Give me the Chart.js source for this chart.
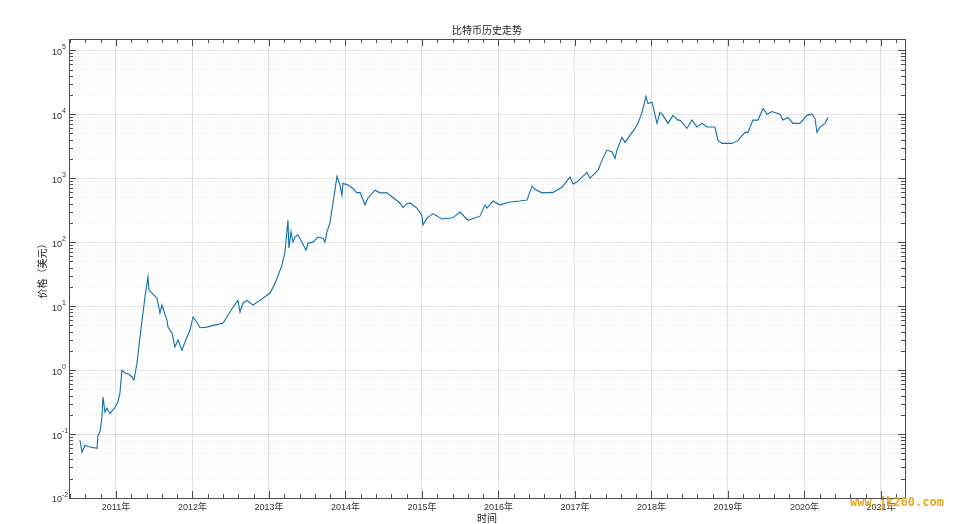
<!DOCTYPE html>
<html lang="zh">
<head>
<meta charset="UTF-8">
<title>比特币历史走势</title>
<script src="https://cdn.jsdelivr.net/npm/chart.js"></script>
<style>
  html, body { margin: 0; padding: 0; background: #fff; }
  #chart { display: block; }
</style>
</head>
<body>
<canvas id="chart" width="960" height="524"></canvas>
<script>
// 时间（小数年）与价格（美元）
const years = [
  2010.529, 2010.556, 2010.595, 2010.634, 2010.752, 2010.765, 2010.791, 2010.817, 2010.830, 2010.856,
  2010.882, 2010.922, 2010.987, 2011.026, 2011.052, 2011.078, 2011.118, 2011.170, 2011.209, 2011.235,
  2011.275, 2011.314, 2011.353, 2011.379, 2011.418, 2011.431, 2011.471, 2011.536, 2011.575, 2011.601,
  2011.667, 2011.680, 2011.732, 2011.771, 2011.810, 2011.863, 2011.902, 2011.967, 2012.007, 2012.059,
  2012.098, 2012.190, 2012.268, 2012.399, 2012.464, 2012.529, 2012.595, 2012.621, 2012.660, 2012.712,
  2012.791, 2012.882, 2012.948, 2013.013, 2013.065, 2013.105, 2013.170, 2013.209, 2013.248, 2013.261,
  2013.288, 2013.314, 2013.340, 2013.379, 2013.431, 2013.484, 2013.510, 2013.575, 2013.641, 2013.706,
  2013.732, 2013.758, 2013.797, 2013.837, 2013.889, 2013.928, 2013.954, 2013.967, 2014.033, 2014.098,
  2014.150, 2014.190, 2014.229, 2014.255, 2014.294, 2014.386, 2014.451, 2014.542, 2014.621, 2014.712,
  2014.752, 2014.804, 2014.843, 2014.935, 2015.000, 2015.013, 2015.065, 2015.144, 2015.261, 2015.405,
  2015.497, 2015.601, 2015.758, 2015.824, 2015.850, 2015.928, 2016.020, 2016.124, 2016.281, 2016.373,
  2016.438, 2016.477, 2016.569, 2016.712, 2016.830, 2016.935, 2016.974, 2017.026, 2017.157, 2017.196,
  2017.301, 2017.353, 2017.418, 2017.484, 2017.523, 2017.549, 2017.614, 2017.654, 2017.719, 2017.784,
  2017.824, 2017.876, 2017.928, 2017.954, 2018.007, 2018.072, 2018.111, 2018.150, 2018.216, 2018.281,
  2018.346, 2018.373, 2018.464, 2018.529, 2018.595, 2018.660, 2018.725, 2018.830, 2018.869, 2018.922,
  2019.052, 2019.131, 2019.222, 2019.261, 2019.327, 2019.392, 2019.458, 2019.510, 2019.575, 2019.680,
  2019.719, 2019.784, 2019.850, 2019.941, 2020.033, 2020.098, 2020.137, 2020.163, 2020.203, 2020.268,
  2020.307
];
const prices = [
  0.080, 0.052, 0.067, 0.064, 0.060, 0.096, 0.108, 0.185, 0.38, 0.22,
  0.254, 0.21, 0.26, 0.32, 0.44, 1.0, 0.90, 0.86, 0.78, 0.70,
  1.29, 3.3, 7.8, 13.8, 28.5, 17.8, 15.9, 13.3, 7.8, 10.4,
  6.0, 4.7, 3.8, 2.3, 2.95, 2.05, 2.74, 4.2, 6.7, 5.6,
  4.6, 4.7, 5.0, 5.4, 7.2, 9.6, 12.3, 8.1, 11.1, 12.3,
  10.4, 12.3, 14, 16, 21, 27, 44, 69, 220, 81,
  145, 100, 120, 130, 100, 75, 96, 100, 120, 115,
  100, 145, 200, 410, 1070, 780, 540, 830, 780, 690,
  590, 600, 460, 380, 490, 650, 590, 590, 500, 410,
  350, 400, 410, 340, 260, 185, 237, 280, 230, 240,
  295, 220, 255, 380, 340, 440, 380, 420, 440, 455,
  750, 670, 590, 600, 720, 1040, 810, 870, 1230, 1000,
  1330, 1900, 2750, 2570, 2050, 2750, 4370, 3630, 4670, 6000,
  7200, 10700, 19000, 14700, 15400, 7200, 10700, 9600, 7200, 9600,
  8100, 8100, 6000, 8100, 6300, 7200, 6300, 6300, 3900, 3500,
  3500, 3900, 5200, 5200, 8100, 8100, 12300, 10000, 11000, 10000,
  8100, 8900, 7200, 7200, 9600, 10000, 8600, 5200, 6300, 7200,
  8900
];
const yearTicks = [2011, 2012, 2013, 2014, 2015, 2016, 2017, 2018, 2019, 2020, 2021];
const decades = [-2, -1, 0, 1, 2, 3, 4, 5];

const XMIN = 2010.386;
const XMAX = 2021.314;
const YMIN = 0.01;
const YMAX = 150000;
const axisColor = '#4d4d4d';

// 对数刻度：每个数量级 1..9
function logTicks() {
    let t = [];
    for (let e of decades) {
        for (let m = 1; m <= 9; m++) {
            let v = m * Math.pow(10, e);
            if (v >= YMIN && v <= YMAX) t.push({ value: v, major: m === 1 });
        }
    }
    return t;
}

const matlabAxes = {
    id: 'matlabAxes',
    afterDraw(chart) {
        const ctx = chart.ctx;
        const a = chart.chartArea;
        const xs = chart.scales.x;
        const ys = chart.scales.y;
        ctx.save();

        // 边框
        ctx.strokeStyle = axisColor;
        ctx.lineWidth = 1;
        ctx.strokeRect(Math.round(a.left) + 0.5, Math.round(a.top) + 0.5,
            Math.round(a.right - a.left), Math.round(a.bottom - a.top));

        // x 刻度线（上下，向内）
        ctx.beginPath();
        for (let k = Math.ceil(XMIN * 5); k <= Math.floor(XMAX * 5); k++) {
            let len = (k % 5 === 0) ? 7 : 4;
            let px = Math.round(xs.getPixelForValue(k / 5)) + 0.5;
            ctx.moveTo(px, a.bottom);
            ctx.lineTo(px, a.bottom - len);
            ctx.moveTo(px, a.top);
            ctx.lineTo(px, a.top + len);
        }
        // y 刻度线（左右，向内）
        for (let t of logTicks()) {
            let len = t.major ? 7 : 4;
            let py = Math.round(ys.getPixelForValue(t.value)) + 0.5;
            ctx.moveTo(a.left, py);
            ctx.lineTo(a.left + len, py);
            ctx.moveTo(a.right, py);
            ctx.lineTo(a.right - len, py);
        }
        ctx.stroke();

        // y 刻度标签 10^n
        ctx.fillStyle = '#333';
        ctx.textBaseline = 'middle';
        for (let e of decades) {
            let py = ys.getPixelForValue(Math.pow(10, e));
            ctx.font = '7px "Liberation Sans", Arial, sans-serif';
            ctx.textAlign = 'left';
            ctx.fillText(String(e), 62, py - 3);
            ctx.font = '9px "Liberation Sans", Arial, sans-serif';
            ctx.textAlign = 'right';
            ctx.fillText('10', 62, py + 2);
        }

        // 标题与坐标轴名称
        const cjk = '"Noto Sans CJK SC", sans-serif';
        ctx.fillStyle = '#222';
        ctx.textAlign = 'center';
        ctx.font = '10px ' + cjk;
        ctx.fillText('比特币历史走势', (a.left + a.right) / 2, 30);
        ctx.fillText('时间', (a.left + a.right) / 2, 518);
        ctx.save();
        ctx.translate(42, (a.top + a.bottom) / 2);
        ctx.rotate(-Math.PI / 2);
        ctx.fillText('价格（美元）', 0, 0);
        ctx.restore();

        // 水印
        ctx.fillStyle = '#eba51c';
        ctx.font = 'bold 12px "DejaVu Sans Mono", monospace';
        ctx.textAlign = 'left';
        ctx.fillText('www.jk260.com', 850, 503);

        ctx.restore();
    }
};

new Chart(document.getElementById('chart'), {
    type: 'line',
    data: {
        datasets: [{
            data: years.map((x, i) => ({ x: x, y: prices[i] })),
            borderColor: 'rgb(14, 110, 170)',
            borderWidth: 1.1,
            pointRadius: 0,
            tension: 0,
            fill: false
        }]
    },
    options: {
        responsive: false,
        animation: false,
        devicePixelRatio: 1,
        layout: { padding: { left: 0, right: 55, top: 39, bottom: 0 } },
        plugins: {
            legend: { display: false },
            tooltip: { enabled: false }
        },
        scales: {
            x: {
                type: 'linear',
                min: XMIN,
                max: XMAX,
                afterBuildTicks: (scale) => { scale.ticks = yearTicks.map(v => ({ value: v })); },
                afterFit: (scale) => { scale.height = 26; },
                ticks: {
                    autoSkip: false,
                    maxRotation: 0,
                    padding: 4,
                    color: '#333',
                    font: { size: 9, family: '"Liberation Sans", "Noto Sans CJK SC", sans-serif' },
                    callback: (v) => v + '年'
                },
                grid: { color: 'rgba(0, 0, 0, 0.11)', drawTicks: false },
                border: { display: false }
            },
            y: {
                type: 'logarithmic',
                min: YMIN,
                max: YMAX,
                afterBuildTicks: (scale) => { scale.ticks = logTicks(); },
                afterFit: (scale) => { scale.width = 69; },
                ticks: { display: false },
                grid: {
                    drawTicks: false,
                    color: (c) => (c.tick && c.tick.major) ? 'rgba(0, 0, 0, 0.11)' : 'rgba(0, 0, 0, 0.09)'
                },
                border: {
                    display: false,
                    dash: (c) => (c.tick && c.tick.major) ? [] : [1, 2]
                }
            }
        }
    },
    plugins: [matlabAxes]
});
</script>
</body>
</html>
